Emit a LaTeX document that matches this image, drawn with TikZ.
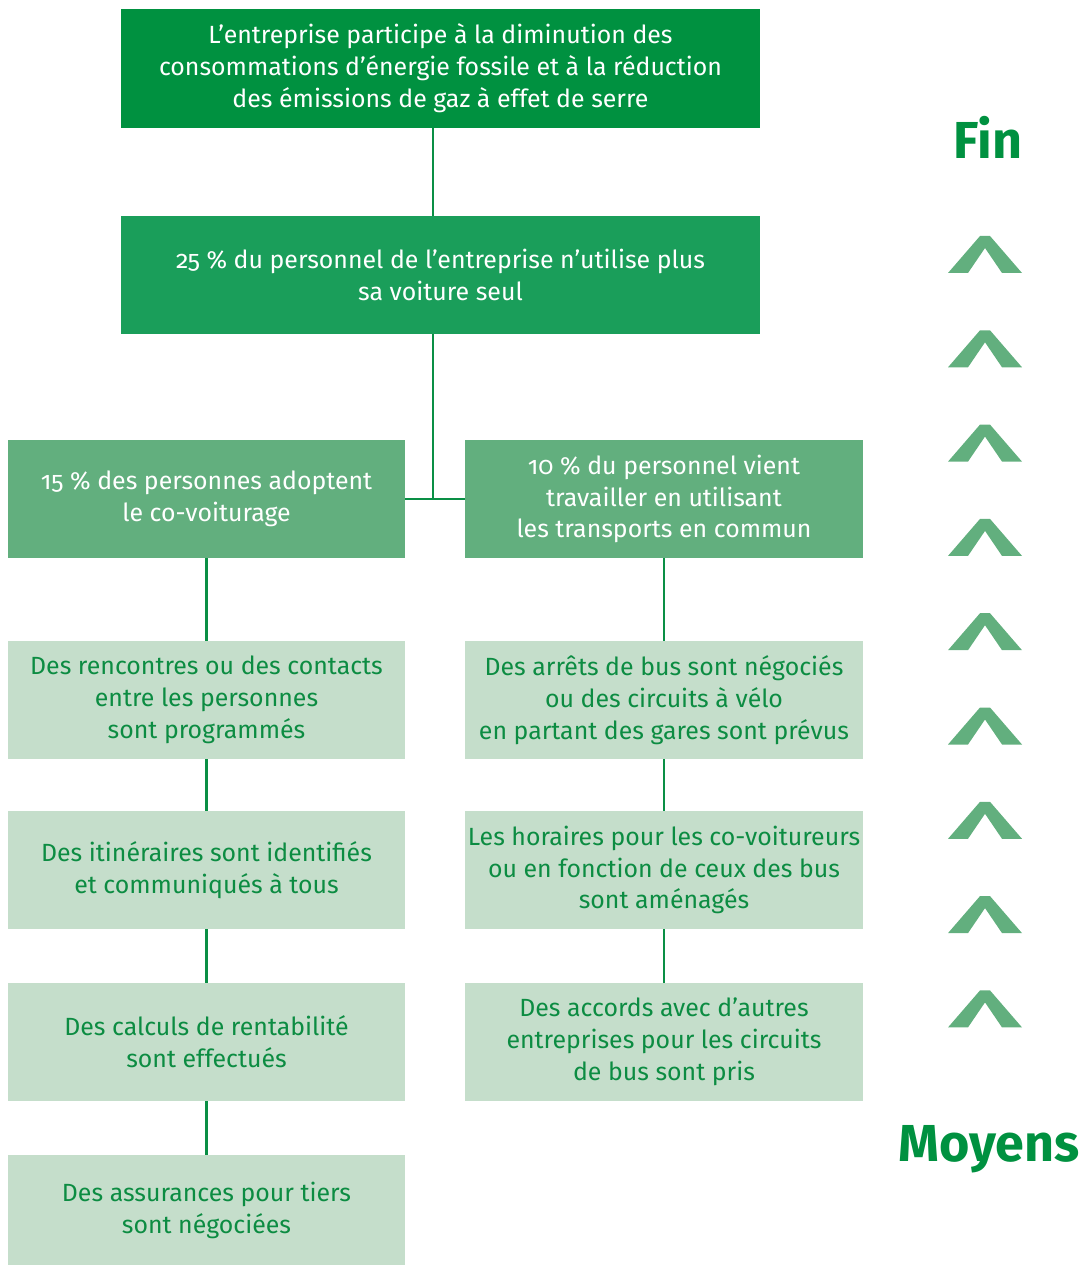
\documentclass[tikz,border=0pt]{standalone}
\usepackage{fontspec}
\setmainfont{Fira Sans}[Numbers=OldStyle]
\usepackage{tikz}
\usetikzlibrary{positioning,calc}

\definecolor{topgreen}{RGB}{0,145,64}
\definecolor{midgreen}{RGB}{26,158,90}
\definecolor{stepgreen}{RGB}{98,175,126}
\definecolor{palegreen}{RGB}{197,222,203}
\definecolor{linegreen}{RGB}{10,143,69}
\definecolor{textgreen}{RGB}{12,140,66}

\begin{document}
\begin{tikzpicture}[x=0.025cm, y=-0.025cm]
    % Styles
    \tikzset{
        stage/.style={rectangle, minimum width=9.925cm, minimum height=2.95cm, inner sep=0pt, align=center, font=\fontsize{17.7}{22.7}\selectfont},
        widestage/.style={stage, minimum width=15.975cm},
        darkstage/.style={text=white},
        palestage/.style={stage, fill=palegreen, text=textgreen},
        link/.style={draw=linegreen, line width=2.1pt},
        endlabel/.style={font=\fontsize{37}{40}\selectfont\bfseries, text=topgreen}
    }
    \useasboundingbox (0,0) rectangle (1080,1266);

    % Goal and target
    \node[widestage, darkstage, fill=topgreen] (goal) at (440.5,68.5) {L’entreprise participe à la diminution des\\consommations d’énergie fossile et à la réduction\\des émissions de gaz à effet de serre};
    \node[widestage, darkstage, fill=midgreen] (target) at (440.5,275) {25 \% du personnel de l’entreprise n’utilise plus\\sa voiture seul};

    % Two results
    \node[stage, darkstage, fill=stepgreen] (covoit) at (206.5,499) {15 \% des personnes adoptent\\le co-voiturage};
    \node[stage, darkstage, fill=stepgreen] (transport) at (664,499) {10 \% du personnel vient\\travailler en utilisant\\les transports en commun};

    % Means, left column
    \node[palestage] (c1) at (206.5,700) {Des rencontres ou des contacts\\entre les personnes\\sont programmés};
    \node[palestage] (c2) at (206.5,870) {Des itinéraires sont identifiés\\et communiqués à tous};
    \node[palestage] (c3) at (206.5,1042) {Des calculs de rentabilité\\sont effectués};
    \node[palestage, minimum height=2.75cm] (c4) at (206.5,1210) {Des assurances pour tiers\\sont négociées};

    % Means, right column
    \node[palestage] (t1) at (664,700) {Des arrêts de bus sont négociés\\ou des circuits à vélo\\en partant des gares sont prévus};
    \node[palestage] (t2) at (664,870) {Les horaires pour les co-voitureurs\\ou en fonction de ceux des bus\\sont aménagés};
    \node[palestage] (t3) at (664,1042) {Des accords avec d’autres\\entreprises pour les circuits\\de bus sont pris};

    % Connectors
    \coordinate (junction) at (433,499);
    \draw[link] (goal.south -| junction) -- (target.north -| junction);
    \draw[link] (target.south -| junction) -- (junction);
    \draw[link] (covoit.east) -- (transport.west);
    \foreach \a/\b in {covoit/c1, c1/c2, c2/c3, c3/c4, transport/t1, t1/t2, t2/t3} {
        \draw[link] (\a.south) -- (\b.north);
    }

    % End and means
    \node[endlabel] (fin) at (988,137) {Fin};
    \node[endlabel] (moyens) at (989,1149) {Moyens};
    \foreach \i in {0,...,8} {
        \begin{scope}[shift={(0,94.3*\i)}]
            \fill[stepgreen] (948,273) -- (980,236) -- (990,236) -- (1022,273) -- (1002,273) -- (985,248) -- (968,273) -- cycle;
        \end{scope}
    }
\end{tikzpicture}
\end{document}
